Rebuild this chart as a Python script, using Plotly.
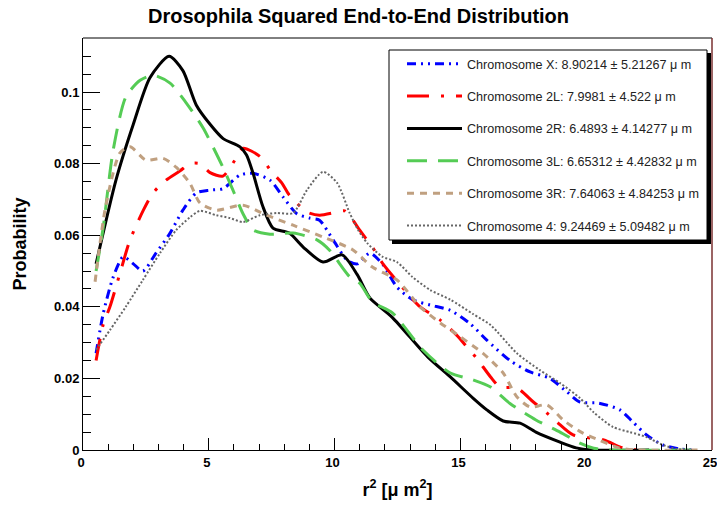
import plotly.graph_objects as go

# r^2 bin positions and probabilities for each chromosome arm
x_X = [0.52, 0.8, 1.2, 1.6, 2.0, 2.38, 2.9, 3.46, 3.97, 4.5, 5.05, 5.56, 6.24, 6.76, 7.43, 7.95, 8.5, 9.0, 9.4,
       9.94, 10.5, 10.9, 11.4, 11.9, 12.48, 13.1, 13.8, 14.6, 15.4, 16.05, 16.97, 17.77, 18.56, 19.24, 19.75,
       20.5, 21.34, 21.86, 22.4, 23.05, 23.7, 24.3]
y_X = [0.027, 0.038, 0.0483, 0.054, 0.052, 0.050, 0.055, 0.0606, 0.067, 0.0718, 0.0726, 0.073, 0.0768, 0.0773,
       0.0754, 0.0707, 0.066, 0.0648, 0.0642, 0.0587, 0.053, 0.052, 0.055, 0.052, 0.0455, 0.042, 0.0405, 0.039,
       0.0352, 0.0307, 0.025, 0.0218, 0.020, 0.0162, 0.0134, 0.0131, 0.0112, 0.0078, 0.0042, 0.0014, 0.0003, 0.0]

x_2L = [0.52, 0.8, 1.07, 1.47, 1.87, 2.4, 2.78, 3.3, 3.86, 4.25, 4.65, 5.05, 5.56, 6.04, 6.36, 7.03, 7.5, 7.9,
        8.2, 8.9, 9.4, 10.1, 10.4, 10.73, 11.0, 11.5, 11.9, 12.88, 13.4, 14.2, 14.85, 15.26, 15.66, 16.2, 16.57,
        17.25, 17.9, 18.3, 18.84, 19.48, 20.7, 21.45, 22.2]
y_2L = [0.025, 0.035, 0.040, 0.0494, 0.0587, 0.067, 0.0718, 0.0754, 0.078, 0.080, 0.080, 0.0775, 0.0765, 0.081,
        0.0843, 0.082, 0.0777, 0.0746, 0.0712, 0.0665, 0.0656, 0.0665, 0.0668, 0.0642, 0.0614, 0.0567, 0.0522,
        0.0439, 0.040, 0.0363, 0.0321, 0.0288, 0.0255, 0.0204, 0.0176, 0.0173, 0.0134, 0.0112, 0.0078, 0.0042,
        0.0028, 0.0006, 0.0]

x_2R = [0.52, 1.31, 2.0, 2.66, 3.42, 3.97, 4.5, 5.05, 5.57, 6.24, 6.5, 6.76, 7.15, 7.55, 8.2, 8.75, 9.54, 10.3,
        10.9, 11.4, 12.3, 13.7, 14.6, 15.5, 16.05, 16.7, 17.37, 18.0, 18.96, 19.6, 20.2, 22.5]
y_2R = [0.052, 0.0754, 0.091, 0.104, 0.110, 0.106, 0.0964, 0.091, 0.087, 0.0847, 0.0824, 0.0773, 0.068, 0.062,
        0.0606, 0.0567, 0.0525, 0.0545, 0.049, 0.0425, 0.037, 0.026, 0.0204, 0.0145, 0.0112, 0.0081, 0.0075,
        0.005, 0.0022, 0.0006, 0.0, 0.0]

x_3L = [0.52, 0.8, 1.2, 1.7, 2.27, 2.8, 3.46, 4.1, 4.77, 5.56, 5.96, 6.36, 6.76, 7.43, 8.35, 9.3, 9.8, 10.6,
        11.0, 11.5, 12.3, 13.5, 14.6, 15.5, 16.2, 16.97, 18.0, 18.96, 19.75, 20.3, 21.0, 24.5]
y_3L = [0.050, 0.062, 0.0838, 0.0986, 0.1033, 0.1047, 0.1025, 0.097, 0.090, 0.079, 0.0726, 0.066, 0.0615,
        0.0603, 0.0606, 0.0587, 0.0558, 0.0484, 0.0466, 0.0414, 0.0383, 0.028, 0.0215, 0.0196, 0.0176, 0.013,
        0.0084, 0.005, 0.0019, 0.0005, 0.0, 0.0]

x_3R = [0.48, 0.9, 1.47, 1.87, 2.5, 3.18, 3.7, 4.25, 4.65, 5.3, 6.36, 7.3, 8.35, 9.54, 10.73, 11.5, 12.48, 13.4,
        14.2, 15.0, 15.9, 16.7, 17.25, 17.77, 18.44, 19.08, 19.87, 20.5, 21.3, 22.0, 24.5]
y_3R = [0.047, 0.068, 0.083, 0.0847, 0.081, 0.0815, 0.079, 0.0745, 0.069, 0.067, 0.0684, 0.0656, 0.0628, 0.0595,
        0.0559, 0.0511, 0.0475, 0.040, 0.0355, 0.0316, 0.027, 0.0215, 0.0148, 0.012, 0.0126, 0.0084, 0.0047,
        0.0028, 0.0006, 0.0, 0.0]

x_4 = [0.52, 1.07, 1.7, 2.38, 3.06, 3.7, 4.25, 4.65, 5.3, 5.84, 6.36, 7.03, 7.7, 8.35, 8.9, 9.54, 10.1, 10.6,
       10.93, 11.3, 11.9, 12.48, 13.1, 13.8, 14.6, 15.5, 16.2, 17.25, 18.16, 18.96, 19.75, 20.3, 21.07, 21.74,
       22.4, 23.05, 23.6, 24.2]
y_4 = [0.028, 0.0335, 0.040, 0.0475, 0.055, 0.0614, 0.065, 0.0668, 0.0656, 0.0648, 0.0637, 0.0656, 0.0662,
       0.0662, 0.0726, 0.0777, 0.0746, 0.0662, 0.0615, 0.0578, 0.054, 0.0525, 0.0483, 0.0447, 0.042, 0.038,
       0.0349, 0.027, 0.0223, 0.0187, 0.0145, 0.0105, 0.0064, 0.005, 0.0036, 0.0014, 0.0003, 0.0]

labels = [
    "Chromosome X: 8.90214 ± 5.21267 μ m",
    "Chromosome 2L: 7.9981 ± 4.522 μ m",
    "Chromosome 2R: 6.4893 ± 4.14277 μ m",
    "Chromosome 3L: 6.65312 ± 4.42832 μ m",
    "Chromosome 3R: 7.64063 ± 4.84253 μ m",
    "Chromosome 4: 9.24469 ± 5.09482 μ m",
]

series = [
    (x_X, y_X, "#0000ff", 3, "9px,5px,2px,5px,2px,5px"),
    (x_2L, y_2L, "#ff0000", 3, "22px,12px,3px,12px"),
    (x_2R, y_2R, "#000000", 3, "solid"),
    (x_3L, y_3L, "#55cc55", 3, "20px,11px"),
    (x_3R, y_3R, "#c0a080", 3, "7px,6px"),
    (x_4, y_4, "#666666", 2, "2px,2px"),
]

W, H = 717, 509
L, R, T, B = 83, 5, 38, 59
pw, ph = W - L - R, H - T - B


def px_x(p):
    return (p - L) / pw


def px_y(p):
    return (H - B - p) / ph


fig = go.Figure()
for i, ((xs, ys, col, w, dash), name) in enumerate(zip(series, labels)):
    fig.add_trace(go.Scatter(
        x=xs, y=ys, mode="lines", name=name, legendgroup=f"g{i}",
        line=dict(color=col, width=w, dash=dash, shape="spline", smoothing=0.7),
    ))

bold = dict(family="Liberation Sans, Arial, sans-serif", weight="bold", color="black")

fig.update_layout(
    width=W, height=H,
    margin=dict(l=L, r=R, t=T, b=B, autoexpand=False),
    paper_bgcolor="white", plot_bgcolor="white",
    title=dict(text="Drosophila Squared End-to-End Distribution", x=0.5, xanchor="center",
               y=1 - 16 / H, yanchor="middle", font=dict(size=20, **bold)),
    showlegend=True,
    legend=dict(x=px_x(402), y=px_y(49), xanchor="left", yanchor="top",
                bgcolor="rgba(0,0,0,0)", borderwidth=0, tracegroupgap=13, itemwidth=55,
                font=dict(size=12.6, family="Liberation Sans, Arial, sans-serif", color="#222222")),
    xaxis=dict(range=[0, 25], tickmode="linear", tick0=0, dtick=5, ticks="inside", ticklen=12,
               tickcolor="black", showline=True, linecolor="black", linewidth=1, showgrid=False,
               zeroline=False, tickfont=dict(size=13, **bold), ticklabeloverflow="allow",
               automargin=False, ticklabelshift=-2,
               minor=dict(dtick=1, ticks="inside", ticklen=6, tickcolor="black"),
               title=dict(text="r<sup>2</sup> [μ m<sup>2</sup>]", font=dict(size=18, **bold), standoff=14)),
    yaxis=dict(range=[0, 0.1151], tickmode="linear", tick0=0, dtick=0.02, ticks="inside", ticklen=17,
               tickcolor="black", showline=True, linecolor="black", linewidth=1, showgrid=False,
               zeroline=False, tickfont=dict(size=13, **bold), automargin=False,
               minor=dict(dtick=0.005, ticks="inside", ticklen=8, tickcolor="black"),
               title=dict(text="Probability", font=dict(size=18, **bold), standoff=22)),
    shapes=[
        # frame top and right edges
        dict(type="line", xref="paper", yref="paper", x0=0, x1=1, y0=1, y1=1,
             line=dict(color="black", width=1)),
        dict(type="line", xref="paper", yref="paper", x0=1, x1=1, y0=0, y1=1,
             line=dict(color="#7a3030", width=1.5)),
        # legend box with drop shadow
        dict(type="rect", xref="paper", yref="paper", x0=px_x(392), x1=px_x(711), y0=px_y(244), y1=px_y(53),
             fillcolor="black", line=dict(width=0), layer="above"),
        dict(type="rect", xref="paper", yref="paper", x0=px_x(389), x1=px_x(707), y0=px_y(240), y1=px_y(50),
             fillcolor="white", line=dict(color="black", width=1), layer="above"),
    ],
)

fig.write_html("out.html")
